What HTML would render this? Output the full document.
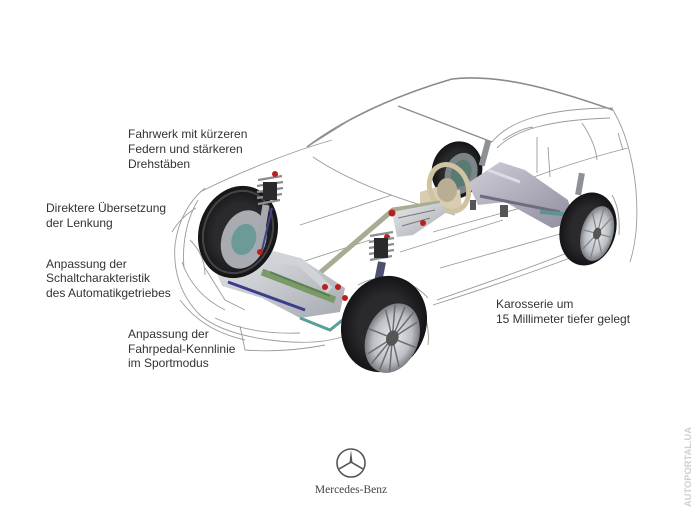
<!DOCTYPE html>
<html><head><meta charset="utf-8"><style>
html,body{margin:0;padding:0;background:#fff;}
body{width:700px;height:520px;overflow:hidden;position:relative;}
svg{position:absolute;left:0;top:0;}
.t{font-family:"Liberation Sans",sans-serif;font-size:12px;fill:#333;}
</style></head><body>
<svg width="700" height="520" viewBox="0 0 700 520" xmlns="http://www.w3.org/2000/svg">
<defs>
<radialGradient id="rim" cx="0.5" cy="0.5" r="0.5"><stop offset="0" stop-color="#eceef0"/><stop offset="0.7" stop-color="#bcc0c4"/><stop offset="1" stop-color="#7a7e82"/></radialGradient>
<linearGradient id="silver" x1="0" y1="0" x2="1" y2="1"><stop offset="0" stop-color="#e8eaec"/><stop offset="1" stop-color="#a6aab0"/></linearGradient>
<linearGradient id="frame" x1="0" y1="0" x2="1" y2="1"><stop offset="0" stop-color="#cfced8"/><stop offset="1" stop-color="#8e8c9e"/></linearGradient>
<radialGradient id="tire" cx="0.5" cy="0.5" r="0.5"><stop offset="0.6" stop-color="#2a2a2c"/><stop offset="1" stop-color="#141416"/></radialGradient>
</defs>
<rect width="700" height="520" fill="#fff"/>

<!-- body line drawing -->
<g fill="none" stroke="#9a9a9a" stroke-width="0.9">
<path d="M307,147 C340,122 390,97 452,79 C495,74 545,86 613,110" stroke="#8a8a8a" stroke-width="1.6"/>
<path d="M492,142 C508,122 545,108 613,108"/>
<path d="M497,148 C515,130 548,120 610,118"/>
<path d="M613,110 C626,132 633,160 636,190 C638,215 637,240 630,262"/>
<path d="M398,106 L492,142" stroke="#8a8a8a" stroke-width="1.3"/>
<path d="M313,157 C350,182 400,200 455,215"/>
<path d="M200,192 C240,172 290,152 332,140"/>
<path d="M350,120 L307,147"/>
<path d="M503,140 C515,132 525,128 533,127"/>
<path d="M537,137 L537,173"/>
<path d="M548,147 L550,177"/>
<path d="M582,123 C590,135 596,148 597,160"/>
<path d="M618,133 L623,150"/>
<path d="M470,203 C520,180 580,160 628,148"/>
<path d="M433,232 L550,200"/>
<path d="M400,252 L503,220"/>
<path d="M440,268 L560,234"/>
<path d="M437,300 C480,285 530,268 567,253"/>
<path d="M433,305 C480,290 530,273 570,258"/>
<path d="M283,268 L370,240"/>
<path d="M392,195 L300,225"/>
<path d="M418,298 C425,310 430,330 428,345"/>
<path d="M358,285 C380,272 410,278 428,298"/>
<path d="M612,195 C618,205 620,220 619,235"/>
<!-- front bumper -->
<path d="M205,188 C190,200 178,220 175,245 C173,270 180,295 200,315 C215,328 240,336 270,340 C300,344 325,343 345,336"/>
<path d="M198,200 C186,220 182,245 184,268"/>
<path d="M182,262 C190,285 205,300 225,310"/>
<path d="M190,240 C200,250 205,262 205,275"/>
<path d="M215,318 C240,330 270,334 300,333"/>
<path d="M240,326 L245,350 C270,352 300,350 325,345"/>
<path d="M180,300 C195,320 215,333 245,340"/>
<path d="M205,268 L225,300 L245,310"/>
<path d="M172,232 C178,222 186,214 196,208"/>
</g>

<!-- rear left wheel -->
<g transform="rotate(18 457 170)">
<ellipse cx="457" cy="170" rx="25" ry="29" fill="url(#tire)"/>
<ellipse cx="462" cy="172" rx="16" ry="21" fill="#7d8488"/>
<ellipse cx="462" cy="172" rx="10" ry="14" fill="#5a7a74"/>
</g>
<rect x="482" y="140" width="6" height="26" fill="#8d9094" transform="rotate(15 485 153)"/>
<!-- beige seat/steering wheel -->
<path d="M420,192 L440,186 L460,190 L462,210 L440,214 L420,210 Z" fill="#d8cdb0"/>
<ellipse cx="449" cy="188" rx="19" ry="24" fill="none" stroke="#cfc3a2" stroke-width="5" transform="rotate(-20 449 188)"/>
<ellipse cx="447" cy="190" rx="10" ry="12" fill="#b8ae94"/>

<!-- rear frame -->
<path d="M468,183 L500,162 L525,170 L568,200 L575,222 L552,228 L505,202 L478,205 Z" fill="url(#frame)"/>
<path d="M480,196 L560,212" stroke="#6e6c80" stroke-width="3"/>
<path d="M488,170 L520,182" stroke="#dcdce4" stroke-width="3"/>
<path d="M540,212 L575,215 L580,230" stroke="#5d9490" stroke-width="4" fill="none"/>
<rect x="577" y="173" width="6" height="22" fill="#8d9094" transform="rotate(10 580 184)"/>
<rect x="500" y="205" width="8" height="12" fill="#555"/>
<rect x="470" y="200" width="6" height="10" fill="#555"/>

<!-- rear right wheel -->
<g transform="rotate(15 588 229)">
<ellipse cx="588" cy="229" rx="28" ry="37" fill="url(#tire)"/>
<ellipse cx="598" cy="231" rx="16" ry="28" fill="url(#rim)"/>
<g stroke="#808488" stroke-width="1.2">
<path d="M598,205 L598,257"/><path d="M584,231 L612,231"/><path d="M588,212 L608,250"/><path d="M608,212 L588,250"/>
</g>
<ellipse cx="598" cy="231" rx="4" ry="6" fill="#555"/>
</g>

<!-- transmission / driveshaft -->
<path d="M440,203 L393,210 L372,228 L300,290" stroke="#a8ac92" stroke-width="5" fill="none"/>
<path d="M392,212 L440,203 L447,212 L413,235 L397,237 Z" fill="url(#silver)"/>
<path d="M398,218 L435,210" stroke="#777" stroke-width="1"/>
<path d="M402,226 L430,218" stroke="#777" stroke-width="1"/>
<circle cx="392" cy="213" r="3.5" fill="#b82020"/>
<circle cx="423" cy="223" r="3" fill="#b82020"/>
<circle cx="387" cy="237" r="3" fill="#b82020"/>

<!-- front subframe -->
<path d="M212,262 L248,244 L300,258 L345,288 L340,312 L300,318 L262,298 L222,286 Z" fill="url(#silver)"/>
<path d="M235,252 L300,262 L330,290" stroke="#d0d4d8" stroke-width="8" fill="none"/>
<path d="M228,282 L305,310" stroke="#3c3c8c" stroke-width="3"/>
<path d="M262,272 L335,300" stroke="#7a9a6a" stroke-width="7"/>
<path d="M270,272 L330,296" stroke="#5e7d52" stroke-width="2"/>
<path d="M300,318 L330,330 L345,318" stroke="#5aa09a" stroke-width="3" fill="none"/>
<circle cx="325" cy="287" r="3" fill="#b82020"/>
<circle cx="338" cy="287" r="3" fill="#b82020"/>
<circle cx="345" cy="298" r="3" fill="#b82020"/>

<!-- front left wheel -->
<g transform="rotate(20 238 232)">
<ellipse cx="238" cy="232" rx="39" ry="47" fill="url(#tire)"/>
<ellipse cx="238" cy="232" rx="34" ry="42" fill="none" stroke="#444446" stroke-width="2"/>
<ellipse cx="246" cy="237" rx="22" ry="30" fill="#a8acb0"/>
<ellipse cx="246" cy="237" rx="12" ry="16" fill="#6c9a96"/>
</g>
<!-- front left strut -->
<path d="M266,205 L258,252" stroke="#a6aab0" stroke-width="7"/>
<path d="M272,208 L262,250" stroke="#44448a" stroke-width="2"/>
<g stroke="#8a8e92" stroke-width="2.2">
<path d="M258,180 L282,176"/><path d="M257,186 L283,182"/><path d="M257,192 L283,188"/><path d="M257,198 L282,194"/><path d="M258,204 L280,200"/>
</g>
<rect x="263" y="182" width="14" height="18" fill="#2a2a2a"/>
<circle cx="275" cy="174" r="3" fill="#b82020"/>
<circle cx="260" cy="252" r="3" fill="#b82020"/>

<!-- front right strut -->
<path d="M382,262 L374,302" stroke="#4d5070" stroke-width="8"/>
<g stroke="#8a8e92" stroke-width="2.2">
<path d="M370,236 L393,232"/><path d="M369,242 L394,238"/><path d="M369,248 L394,244"/><path d="M369,254 L394,250"/><path d="M370,260 L392,256"/>
</g>
<rect x="374" y="238" width="14" height="20" fill="#2a2a2a"/>

<!-- front right wheel -->
<g transform="rotate(22 384 324)">
<ellipse cx="384" cy="324" rx="42" ry="49" fill="url(#tire)"/>
<ellipse cx="397" cy="334" rx="26" ry="36" fill="url(#rim)"/>
<g stroke="#6a6e72" stroke-width="1.5">
<path d="M397,300 L397,368"/><path d="M371,334 L423,334"/><path d="M380,310 L414,358"/><path d="M414,310 L380,358"/>
<path d="M387,302 L407,366"/><path d="M407,302 L387,366"/>
</g>
<ellipse cx="397" cy="334" rx="6" ry="8" fill="#555"/>
</g>

<!-- labels -->
<text class="t" x="128" y="138">Fahrwerk mit kürzeren</text>
<text class="t" x="128" y="153">Federn und stärkeren</text>
<text class="t" x="128" y="168">Drehstäben</text>
<text class="t" x="46" y="212">Direktere Übersetzung</text>
<text class="t" x="46" y="227">der Lenkung</text>
<text class="t" x="46" y="268">Anpassung der</text>
<text class="t" x="46" y="282">Schaltcharakteristik</text>
<text class="t" x="46" y="297">des Automatikgetriebes</text>
<text class="t" x="128" y="338">Anpassung der</text>
<text class="t" x="128" y="353">Fahrpedal-Kennlinie</text>
<text class="t" x="128" y="367">im Sportmodus</text>
<text class="t" x="496" y="308">Karosserie um</text>
<text class="t" x="496" y="323">15 Millimeter tiefer gelegt</text>

<!-- Mercedes logo -->
<circle cx="351" cy="463" r="14" fill="none" stroke="#555" stroke-width="1.6"/>
<g fill="#555">
<polygon points="351,450 352.6,463 349.4,463"/>
<polygon points="351,463 339.7,469.5 338.9,468.1 350.2,461.6"/>
<polygon points="351,463 362.3,469.5 363.1,468.1 351.8,461.6"/>
</g>
<text x="351" y="493" text-anchor="middle" font-family="Liberation Serif, serif" font-size="11.5" fill="#444">Mercedes-Benz</text>

<!-- watermark -->
<text transform="translate(691,507) rotate(-90)" font-family="Liberation Sans, sans-serif" font-size="9.5" font-weight="bold" fill="#cfcfcf" textLength="80" lengthAdjust="spacingAndGlyphs">AUTOPORTAL.UA</text>
</svg>
</body></html>
